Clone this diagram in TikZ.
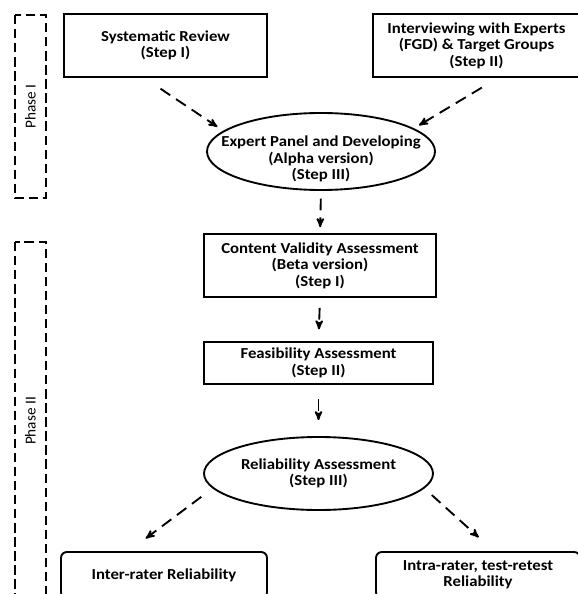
\documentclass[tikz,border=0pt]{standalone}
\usepackage{fontspec}
\setmainfont{Carlito}[FakeStretch=1.1]
\newfontfamily\phasefont{Carlito}
\usepackage{tikz}
\usetikzlibrary{shapes,arrows,positioning}
\tikzstyle{txt} = [font=\fontsize{13}{14}\selectfont\bfseries, align=center]
\tikzstyle{stepbox} = [draw, line width=1.6pt, rectangle, txt]
\tikzstyle{stepoval} = [draw, line width=1.6pt, ellipse, inner sep=0pt]
\tikzstyle{endbox} = [draw, line width=1.6pt, rectangle, rounded corners=5pt, txt]
\tikzstyle{phasebox} = [draw, line width=1.6pt, dash pattern=on 8pt off 4pt, rotate=90,
  font=\phasefont\fontsize{13}{15}\selectfont]
\tikzstyle{flow} = [->, line width=1.6pt, dash pattern=on 10pt off 6pt]

\begin{document}
\begin{tikzpicture}[>=stealth']

    \useasboundingbox (0,0) rectangle (17.31,-17.82);

    % phase frames
    \node[phasebox, minimum width=5.49cm, minimum height=0.93cm] at (0.915,-3.195) (ph1) {Phase I};
    \node[phasebox, minimum width=10.74cm, minimum height=0.93cm] at (0.915,-12.63) (ph2) {Phase II};

    %=====================

    \node[stepbox, minimum width=6.09cm, minimum height=1.89cm] at (4.965,-1.365) (sysrev)
      {Systematic Review\\(Step I)};
    \node[stepbox, minimum width=6.21cm, minimum height=1.89cm] at (14.295,-1.365) (interv)
      {Interviewing with Experts\\(FGD) \& Target Groups\\(Step II)};
    \node[stepoval, minimum width=6.84cm, minimum height=2.31cm,
      label={[txt, yshift=-6.5pt]center:Expert Panel and Developing\\(Alpha version)\\(Step III)}]
      at (9.63,-4.545) (expert) {};

    \path
    ([xshift=-18pt]sysrev.south) edge [flow, shorten <=16.5pt, shorten >=6pt] node {} (expert.168)
    ([xshift=18.3pt]interv.south) edge [flow, shorten <=16pt, shorten >=5pt] node {} (expert.14);

    %=====================

    \node[stepbox, minimum width=6.96cm, minimum height=1.89cm] at (9.6,-7.965) (content)
      {Content Validity Assessment\\(Beta version)\\(Step I)};
    \node[stepbox, minimum width=6.87cm, minimum height=1.26cm] at (9.555,-10.89) (feas)
      {Feasibility Assessment\\(Step II)};
    \node[stepoval, minimum width=6.87cm, minimum height=2.19cm,
      label={[txt]center:Reliability Assessment\\(Step III)}]
      at (9.555,-14.205) (relia) {};

    \path
    (expert.south) edge [flow, shorten <=6.5pt, shorten >=5pt] node {} (content.north)
    (content.south) edge [flow, shorten <=8.5pt, shorten >=10pt] node {} (feas.north)
    (feas.south) edge [flow, shorten <=12pt, shorten >=13.6pt] node {} (relia.north);

    %=====================

    \node[endbox, minimum width=6.18cm, minimum height=1.38cm] at (4.92,-17.25) (inter)
      {Inter-rater Reliability};
    \node[endbox, minimum width=6.12cm, minimum height=1.38cm] at (14.34,-17.25) (intra)
      {Intra-rater, test-retest\\Reliability};

    \path
    (relia.188) edge [flow, shorten <=12pt, shorten >=18pt] node {} ([xshift=-30pt]inter.north)
    (relia.-8) edge [flow, shorten <=8.5pt, shorten >=17.5pt] node {} ([xshift=13.6pt]intra.north);

\end{tikzpicture}
\end{document}
